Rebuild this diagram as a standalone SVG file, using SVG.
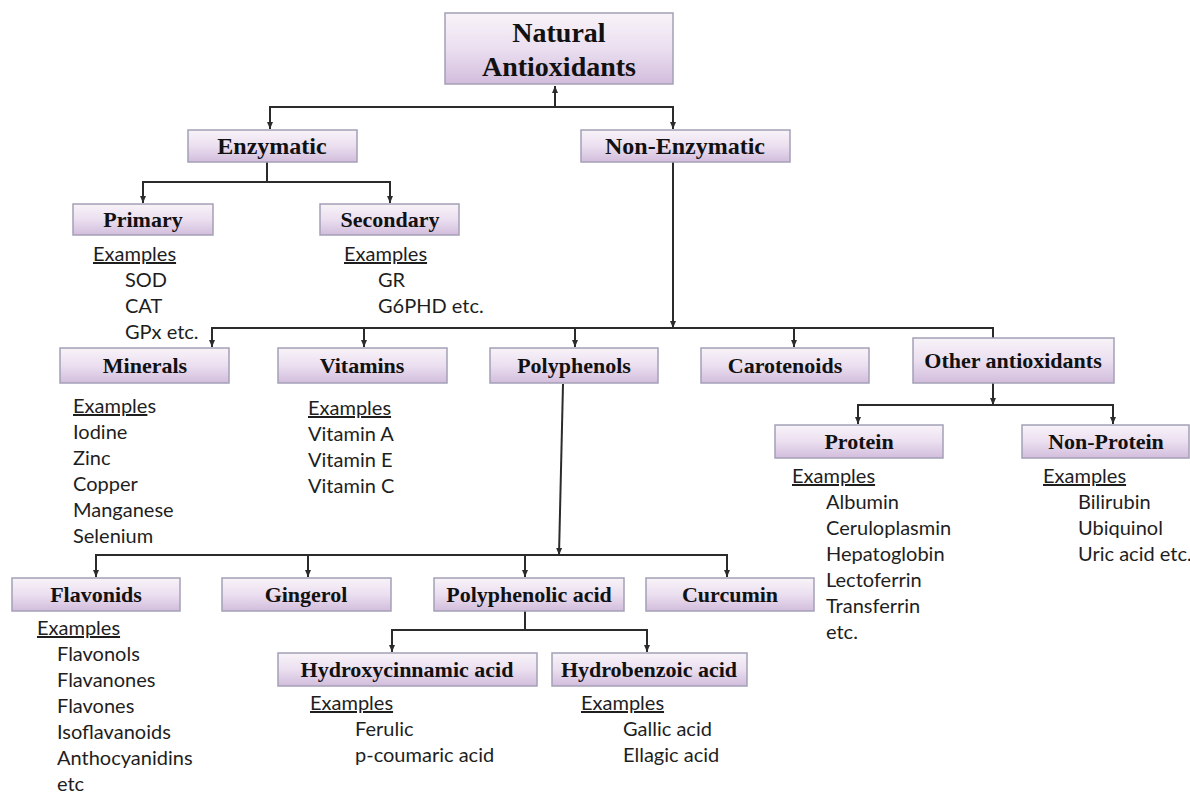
<svg xmlns="http://www.w3.org/2000/svg" width="1190" height="795" viewBox="0 0 1190 795">
<defs>
<linearGradient id="bg" x1="0" y1="0" x2="0" y2="1">
<stop offset="0" stop-color="#f8f3f8"/>
<stop offset="0.5" stop-color="#ebdff0"/>
<stop offset="1" stop-color="#d2bddc"/>
</linearGradient>
<marker id="ah" markerWidth="8" markerHeight="8" refX="7" refY="4" orient="auto" markerUnits="userSpaceOnUse">
<path d="M0,1 L7,4 L0,7 Z" fill="#2b2b2b"/>
</marker>
</defs>
<style>
.box{fill:url(#bg);stroke:#a3a0b6;stroke-width:1.5}
.lbl{font-family:"Liberation Serif","Times New Roman",serif;font-weight:bold;font-size:22px;fill:#111;text-anchor:middle}
.big{font-size:24px}
.root{font-size:28px}
.ex{font-family:Lato,"Liberation Sans",sans-serif;font-size:20px;fill:#1e1e1e}
.u{text-decoration:underline}
.c{fill:none;stroke:#2b2b2b;stroke-width:2}
.a{fill:none;stroke:#2b2b2b;stroke-width:2;marker-end:url(#ah)}
</style>
<rect width="1190" height="795" fill="#fff"/>

<g id="connectors">
<line class="a" x1="555" y1="107" x2="555" y2="86"/>
<polyline class="c" points="270,107 673,107"/>
<line class="a" x1="270" y1="106" x2="270" y2="129"/>
<line class="a" x1="673" y1="106" x2="673" y2="129"/>

<line class="c" x1="267" y1="162" x2="267" y2="182"/>
<polyline class="c" points="143,182 390,182"/>
<line class="a" x1="143" y1="181" x2="143" y2="203"/>
<line class="a" x1="390" y1="181" x2="390" y2="203"/>

<line class="a" x1="673" y1="162" x2="673" y2="328"/>
<polyline class="c" points="212,328 993,328"/>
<line class="a" x1="212" y1="327" x2="212" y2="347"/>
<line class="a" x1="364" y1="327" x2="364" y2="347"/>
<line class="a" x1="575" y1="327" x2="575" y2="347"/>
<line class="a" x1="794" y1="327" x2="794" y2="347"/>
<line class="c" x1="993" y1="327" x2="993" y2="338"/>

<line class="a" x1="993" y1="383" x2="993" y2="405"/>
<polyline class="c" points="858,405 1113,405"/>
<line class="a" x1="858" y1="404" x2="858" y2="424"/>
<line class="a" x1="1113" y1="404" x2="1113" y2="424"/>

<line class="a" x1="563" y1="384" x2="559" y2="555"/>
<polyline class="c" points="96,555 727,555"/>
<line class="a" x1="96" y1="554" x2="96" y2="577"/>
<line class="a" x1="308" y1="554" x2="308" y2="577"/>
<line class="a" x1="525" y1="554" x2="525" y2="577"/>
<line class="a" x1="727" y1="554" x2="727" y2="577"/>

<line class="c" x1="525" y1="611" x2="525" y2="630"/>
<polyline class="c" points="392,630 647,630"/>
<line class="a" x1="392" y1="629" x2="392" y2="652"/>
<line class="a" x1="647" y1="629" x2="647" y2="652"/>
</g>

<g id="n-root"><rect class="box" x="445" y="13" width="228" height="71"/>
<text class="lbl root" x="559" y="42">Natural</text><text class="lbl root" x="559" y="76">Antioxidants</text></g>

<g id="n-enzymatic"><rect class="box" x="188" y="130" width="169" height="32"/><text class="lbl big" x="272" y="154">Enzymatic</text></g>
<g id="n-nonenzymatic"><rect class="box" x="581" y="130" width="209" height="32"/><text class="lbl big" x="685" y="154">Non-Enzymatic</text></g>

<g id="n-primary"><rect class="box" x="73" y="204" width="140" height="31"/><text class="lbl" x="143" y="227">Primary</text>
<text class="ex"><tspan class="u" x="93" y="261">Examples</tspan><tspan x="125" y="287">SOD</tspan><tspan x="125" y="313">CAT</tspan><tspan x="125" y="339">GPx etc.</tspan></text></g>

<g id="n-secondary"><rect class="box" x="320" y="204" width="139" height="31"/><text class="lbl" x="390" y="227">Secondary</text>
<text class="ex"><tspan class="u" x="344" y="261">Examples</tspan><tspan x="378" y="287">GR</tspan><tspan x="378" y="313">G6PHD etc.</tspan></text></g>

<g id="n-minerals"><rect class="box" x="60" y="348" width="169" height="35"/><text class="lbl" x="145" y="373">Minerals</text>
<text class="ex" x="73" y="413"><tspan class="u">Example</tspan>s</text>
<text class="ex"><tspan x="73" y="439">Iodine</tspan><tspan x="73" y="465">Zinc</tspan><tspan x="73" y="491">Copper</tspan><tspan x="73" y="517">Manganese</tspan><tspan x="73" y="543">Selenium</tspan></text></g>

<g id="n-vitamins"><rect class="box" x="278" y="348" width="169" height="35"/><text class="lbl" x="362" y="373">Vitamins</text>
<text class="ex"><tspan class="u" x="308" y="415">Examples</tspan><tspan x="308" y="441">Vitamin A</tspan><tspan x="308" y="467">Vitamin E</tspan><tspan x="308" y="493">Vitamin C</tspan></text></g>

<g id="n-polyphenols"><rect class="box" x="490" y="348" width="168" height="35"/><text class="lbl" x="574" y="373">Polyphenols</text></g>
<g id="n-carotenoids"><rect class="box" x="701" y="348" width="168" height="35"/><text class="lbl" x="785" y="373">Carotenoids</text></g>
<g id="n-other"><rect class="box" x="913" y="338" width="201" height="45"/><text class="lbl" x="1013" y="368">Other antioxidants</text></g>

<g id="n-protein"><rect class="box" x="775" y="425" width="168" height="33"/><text class="lbl" x="859" y="449">Protein</text>
<text class="ex"><tspan class="u" x="792" y="483">Examples</tspan><tspan x="826" y="509">Albumin</tspan><tspan x="826" y="535">Ceruloplasmin</tspan><tspan x="826" y="561">Hepatoglobin</tspan><tspan x="826" y="587">Lectoferrin</tspan><tspan x="826" y="613">Transferrin</tspan><tspan x="826" y="639">etc.</tspan></text></g>

<g id="n-nonprotein"><rect class="box" x="1022" y="425" width="167" height="33"/><text class="lbl" x="1106" y="449">Non-Protein</text>
<text class="ex"><tspan class="u" x="1043" y="483">Examples</tspan><tspan x="1078" y="509">Bilirubin</tspan><tspan x="1078" y="535">Ubiquinol</tspan><tspan x="1078" y="561">Uric acid etc.</tspan></text></g>

<g id="n-flavonids"><rect class="box" x="12" y="578" width="168" height="33"/><text class="lbl" x="96" y="602">Flavonids</text>
<text class="ex"><tspan class="u" x="37" y="635">Examples</tspan><tspan x="57" y="661">Flavonols</tspan><tspan x="57" y="687">Flavanones</tspan><tspan x="57" y="713">Flavones</tspan><tspan x="57" y="739">Isoflavanoids</tspan><tspan x="57" y="765">Anthocyanidins</tspan><tspan x="57" y="791">etc</tspan></text></g>

<g id="n-gingerol"><rect class="box" x="222" y="578" width="169" height="33"/><text class="lbl" x="306" y="602">Gingerol</text></g>
<g id="n-polyphenolic"><rect class="box" x="434" y="578" width="190" height="33"/><text class="lbl" x="529" y="602">Polyphenolic acid</text></g>
<g id="n-curcumin"><rect class="box" x="646" y="578" width="168" height="33"/><text class="lbl" x="730" y="602">Curcumin</text></g>

<g id="n-hydroxycinnamic"><rect class="box" x="278" y="653" width="259" height="33"/><text class="lbl" x="407" y="677">Hydroxycinnamic acid</text>
<text class="ex"><tspan class="u" x="310" y="710">Examples</tspan><tspan x="355" y="736">Ferulic</tspan><tspan x="355" y="762">p-coumaric acid</tspan></text></g>

<g id="n-hydrobenzoic"><rect class="box" x="552" y="653" width="195" height="33"/><text class="lbl" x="649" y="677">Hydrobenzoic acid</text>
<text class="ex"><tspan class="u" x="581" y="710">Examples</tspan><tspan x="623" y="736">Gallic acid</tspan><tspan x="623" y="762">Ellagic acid</tspan></text></g>
</svg>
